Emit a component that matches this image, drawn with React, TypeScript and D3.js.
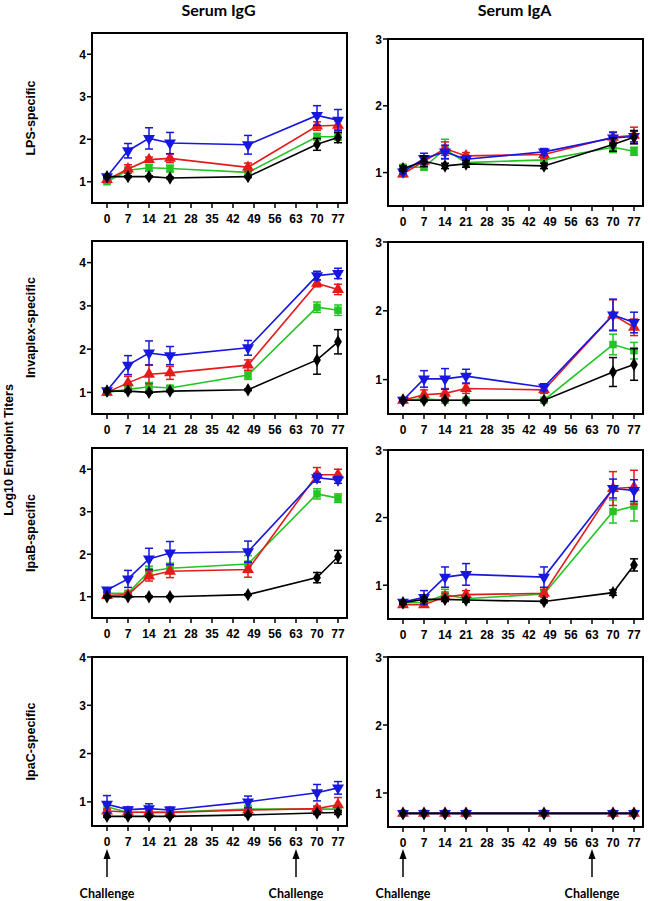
import React from 'react';
import * as d3 from 'd3';

// sampling days and axis ticks
const days = [0, 7, 14, 21, 47, 70, 77];
const dayTicks = [0, 7, 14, 21, 28, 35, 42, 49, 56, 63, 70, 77];
const challengeDays = [0, 63];
const igGTicks = [1, 2, 3, 4];
const igATicks = [1, 2, 3];

const columnTitles = ['Serum IgG', 'Serum IgA'];
const rowTitles = ['LPS-specific', 'Invaplex-specific', 'IpaB-specific', 'IpaC-specific'];

// series order: green (square), red (triangle up), blue (triangle down), black (diamond)
const seriesColors = ['#22c522', '#e51b1b', '#1717df', '#000000'];

// ---- Serum IgG ----
const lpsIgG = [
  [1.0, 1.27, 1.33, 1.31, 1.22, 2.06, 2.06],
  [1.05, 1.3, 1.52, 1.55, 1.34, 2.31, 2.33],
  [1.12, 1.73, 2.02, 1.91, 1.87, 2.56, 2.45],
  [1.12, 1.12, 1.12, 1.09, 1.12, 1.88, 2.04],
];
const lpsIgGErr = [
  [0.04, 0.07, 0.08, 0.08, 0.05, 0.08, 0.08],
  [0.03, 0.1, 0.06, 0.1, 0.1, 0.1, 0.1],
  [0.03, 0.17, 0.25, 0.25, 0.22, 0.23, 0.25],
  [0.02, 0.02, 0.02, 0.02, 0.02, 0.14, 0.12],
];
const invIgG = [
  [1.0, 1.07, 1.13, 1.1, 1.4, 2.97, 2.9],
  [1.0, 1.22, 1.42, 1.45, 1.63, 3.52, 3.38],
  [1.04, 1.63, 1.91, 1.85, 2.03, 3.7, 3.75],
  [1.03, 1.03, 1.0, 1.03, 1.06, 1.75, 2.17],
];
const invIgGErr = [
  [0.02, 0.04, 0.1, 0.05, 0.1, 0.12, 0.12],
  [0.02, 0.15, 0.22, 0.15, 0.12, 0.08, 0.12],
  [0.03, 0.22, 0.28, 0.21, 0.17, 0.1, 0.12],
  [0.02, 0.02, 0.02, 0.02, 0.02, 0.33, 0.28],
];
const ipaBIgG = [
  [1.08, 1.08, 1.6, 1.67, 1.77, 3.42, 3.32],
  [1.03, 1.05, 1.49, 1.6, 1.64, 3.87, 3.87],
  [1.16, 1.42, 1.89, 2.03, 2.06, 3.8, 3.75],
  [1.0, 1.0, 1.0, 1.0, 1.05, 1.45, 1.94],
];
const ipaBIgGErr = [
  [0.04, 0.04, 0.12, 0.12, 0.2, 0.12, 0.1],
  [0.03, 0.04, 0.12, 0.15, 0.18, 0.17, 0.13],
  [0.05, 0.2, 0.25, 0.27, 0.25, 0.1, 0.08],
  [0.02, 0.02, 0.02, 0.02, 0.02, 0.12, 0.15],
];
const ipaCIgG = [
  [0.9, 0.78, 0.79, 0.79, 0.85, 0.85, 0.85],
  [0.81, 0.79, 0.78, 0.78, 0.83, 0.86, 0.94],
  [0.95, 0.84, 0.86, 0.83, 1.0, 1.19, 1.29],
  [0.7, 0.7, 0.7, 0.7, 0.73, 0.77, 0.78],
];
const ipaCIgGErr = [
  [0.06, 0.04, 0.04, 0.04, 0.08, 0.05, 0.05],
  [0.04, 0.03, 0.03, 0.03, 0.04, 0.05, 0.15],
  [0.18, 0.05, 0.1, 0.06, 0.12, 0.17, 0.13],
  [0.02, 0.02, 0.02, 0.02, 0.02, 0.03, 0.04],
];

// ---- Serum IgA ----
const lpsIgA = [
  [1.08, 1.08, 1.35, 1.15, 1.19, 1.38, 1.32],
  [0.98, 1.17, 1.36, 1.25, 1.27, 1.53, 1.56],
  [1.01, 1.21, 1.31, 1.2, 1.31, 1.52, 1.54],
  [1.06, 1.17, 1.1, 1.13, 1.1, 1.42, 1.53],
];
const lpsIgAErr = [
  [0.03, 0.04, 0.15, 0.06, 0.05, 0.08, 0.06],
  [0.04, 0.08, 0.1, 0.05, 0.06, 0.08, 0.12],
  [0.03, 0.08, 0.1, 0.05, 0.05, 0.08, 0.08],
  [0.04, 0.08, 0.04, 0.05, 0.04, 0.1, 0.1],
];
const invIgA = [
  [0.7, 0.72, 0.7, 0.7, 0.7, 1.51, 1.42],
  [0.7, 0.78, 0.8, 0.87, 0.85, 1.94, 1.76],
  [0.7, 1.01, 1.01, 1.05, 0.89, 1.94, 1.83],
  [0.7, 0.7, 0.7, 0.7, 0.7, 1.11, 1.22],
];
const invIgAErr = [
  [0.01, 0.02, 0.01, 0.01, 0.01, 0.15, 0.12],
  [0.01, 0.07, 0.07, 0.07, 0.05, 0.22, 0.12],
  [0.02, 0.12, 0.15, 0.1, 0.05, 0.23, 0.15],
  [0.01, 0.01, 0.01, 0.01, 0.01, 0.21, 0.23],
];
const ipaBIgA = [
  [0.74, 0.74, 0.86, 0.8, 0.87, 2.09, 2.17],
  [0.71, 0.71, 0.83, 0.86, 0.88, 2.43, 2.45],
  [0.75, 0.82, 1.12, 1.16, 1.12, 2.43, 2.4],
  [0.74, 0.79, 0.79, 0.78, 0.76, 0.89, 1.3],
];
const ipaBIgAErr = [
  [0.02, 0.03, 0.08, 0.05, 0.05, 0.17, 0.22],
  [0.02, 0.02, 0.05, 0.06, 0.06, 0.25, 0.25],
  [0.03, 0.1, 0.15, 0.16, 0.15, 0.14, 0.16],
  [0.02, 0.03, 0.03, 0.03, 0.02, 0.04, 0.09],
];
const ipaCIgA = [
  [0.7, 0.7, 0.7, 0.7, 0.7, 0.7, 0.7],
  [0.7, 0.7, 0.7, 0.7, 0.7, 0.7, 0.7],
  [0.7, 0.7, 0.7, 0.7, 0.7, 0.7, 0.7],
  [0.7, 0.7, 0.7, 0.7, 0.7, 0.7, 0.7],
];
const ipaCIgAErr = [
  [0, 0, 0, 0, 0, 0, 0],
  [0, 0, 0, 0, 0, 0, 0],
  [0, 0, 0, 0, 0, 0, 0],
  [0, 0, 0, 0, 0, 0, 0],
];

const igGPanels = [[lpsIgG, lpsIgGErr], [invIgG, invIgGErr], [ipaBIgG, ipaBIgGErr], [ipaCIgG, ipaCIgGErr]];
const igAPanels = [[lpsIgA, lpsIgAErr], [invIgA, invIgAErr], [ipaBIgA, ipaBIgAErr], [ipaCIgA, ipaCIgAErr]];

// layout
const colX = [[92, 347], [388, 643]];
const rowY = [
  [[33, 203], [241, 414], [448, 618], [657, 826]],
  [[39, 206], [242, 414], [450, 619], [657, 827]],
];
const tickFont = '"Liberation Sans", Arial, sans-serif';
const titleFont = 'Lato, "Open Sans", sans-serif';

const symbols = [
  d3.symbol().type(d3.symbolSquare).size(56)(),
  d3.symbol().type(d3.symbolTriangle).size(62)(),
  d3.symbol().type(d3.symbolTriangle).size(62)(),
  d3.symbol().type(d3.symbolDiamond).size(52)(),
];

const Panel = ({ col, row, means, errs }) => {
  const [x0, x1] = colX[col];
  const [y0, y1] = rowY[col][row];
  const yTop = col === 0 ? (row === 3 ? 4 : 4.5) : 3;
  const yTicks = col === 0 ? igGTicks : igATicks;
  const x = d3.scaleLinear().domain([-5, 80]).range([x0, x1]);
  const y = d3.scaleLinear().domain([0.5, yTop]).range([y1, y0]);
  const line = d3.line<number>().x((d, i) => x(days[i])).y(d => y(d));
  const last = row === 3;
  return (
    <g>
      {means.map((s, si) => (
        <g key={si} stroke={seriesColors[si]} fill={seriesColors[si]}>
          <path d={line(s)} fill="none" strokeWidth={1.6} />
          {s.map((v, i) => {
            const e = errs[si][i];
            if (!e) return null;
            const cx = x(days[i]);
            return (
              <g key={i} strokeWidth={1.5}>
                <line x1={cx} x2={cx} y1={y(v - e)} y2={y(v + e)} />
                <line x1={cx - 4} x2={cx + 4} y1={y(v - e)} y2={y(v - e)} />
                <line x1={cx - 4} x2={cx + 4} y1={y(v + e)} y2={y(v + e)} />
              </g>
            );
          })}
          {s.map((v, i) => (
            <path key={'m' + i} d={symbols[si]} stroke="none"
              transform={`translate(${x(days[i])},${y(v)})${si === 2 ? ' rotate(180)' : ''}`} />
          ))}
        </g>
      ))}
      <rect x={x0} y={y0} width={x1 - x0} height={y1 - y0} fill="none" stroke="#000" strokeWidth={2} />
      {yTicks.map(t => (
        <g key={t}>
          <line x1={x0 - 5} x2={x0} y1={y(t)} y2={y(t)} stroke="#000" strokeWidth={1.5} />
          <text x={x0 - 6} y={y(t) + 4.5} textAnchor="end" fontSize={12} fontWeight="bold" fontFamily={tickFont}>{t}</text>
        </g>
      ))}
      {dayTicks.map(t => (
        <g key={t}>
          <line x1={x(t)} x2={x(t)} y1={y1} y2={y1 + 5} stroke="#000" strokeWidth={1.5} />
          <text x={x(t)} y={y1 + 20} textAnchor="middle" fontSize={12} fontWeight="bold" fontFamily={tickFont}>{t}</text>
        </g>
      ))}
      {last && challengeDays.map(d => (
        <g key={d}>
          <line x1={x(d)} x2={x(d)} y1={877} y2={858} stroke="#000" strokeWidth={1.5} />
          <path d={`M${x(d)},849 L${x(d) - 3.5},859 L${x(d) + 3.5},859 Z`} fill="#000" />
          <text x={x(d)} y={898} textAnchor="middle" fontSize={12.5} fontWeight="bold" fontFamily={titleFont}>Challenge</text>
        </g>
      ))}
    </g>
  );
};

const App = () => {
  return (
    <div style={{ position: 'absolute', left: 0, top: 0 }}>
      <svg width={650} height={901} xmlns="http://www.w3.org/2000/svg" style={{ display: 'block', background: '#fff' }}>
        {columnTitles.map((t, i) => (
          <text key={t} x={(colX[i][0] + colX[i][1]) / 2 - 1} y={16} textAnchor="middle" fontSize={16} fontWeight="bold" fontFamily={titleFont}>{t}</text>
        ))}
        {rowTitles.map((t, i) => {
          const cy = (rowY[0][i][0] + rowY[0][i][1]) / 2;
          return (
            <text key={t} transform={`translate(35,${cy}) rotate(-90)`} textAnchor="middle" fontSize={12.5} fontWeight="bold" fontFamily={tickFont}>{t}</text>
          );
        })}
        <text transform="translate(13,450) rotate(-90)" textAnchor="middle" fontSize={12.5} fontWeight="bold" fontFamily={tickFont}>Log10 Endpoint Titers</text>
        {igGPanels.map(([m, e], r) => <Panel key={'g' + r} col={0} row={r} means={m} errs={e} />)}
        {igAPanels.map(([m, e], r) => <Panel key={'a' + r} col={1} row={r} means={m} errs={e} />)}
      </svg>
    </div>
  );
};

export default App;
